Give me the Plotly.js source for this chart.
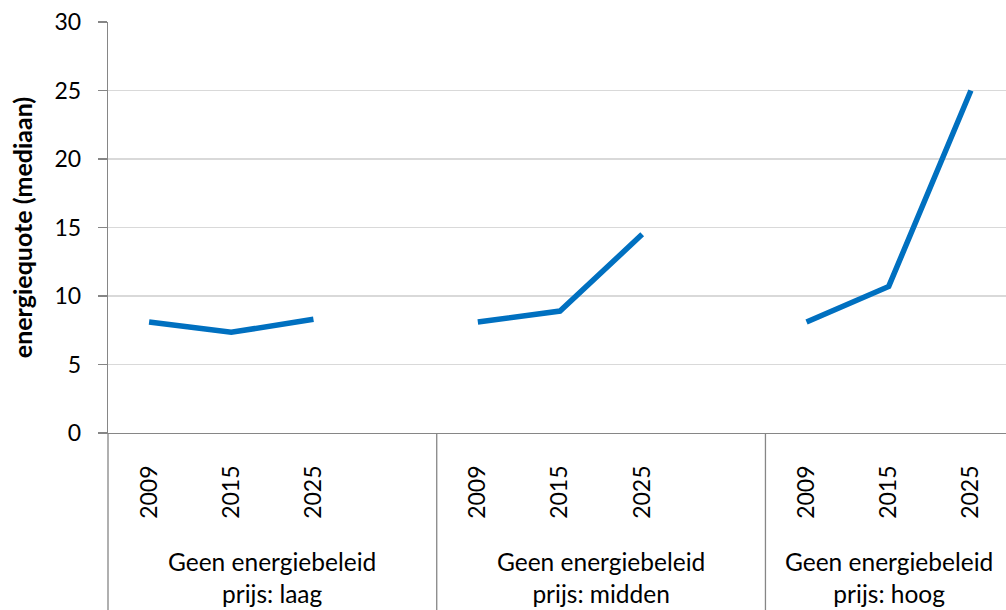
<!DOCTYPE html>
<html>
<head>
<meta charset="utf-8">
<script src="https://cdn.plot.ly/plotly-3.0.1.min.js"></script>
<style>html,body{margin:0;padding:0;background:#fff;}#chart{width:1006px;height:610px;}</style>
</head>
<body>
<div id="chart"></div>
<script>
// ---- data ----
const years = ['2009', '2015', '2025'];
const groupNames = ['Geen energiebeleid<br>prijs: laag', 'Geen energiebeleid<br>prijs: midden', 'Geen energiebeleid<br>prijs: hoog'];
const valuesLaag = [8.1, 7.35, 8.3];
const valuesMidden = [8.1, 8.9, 14.5];
const valuesHoog = [8.1, 10.7, 25.0];
const yTicks = [0, 5, 10, 15, 20, 25, 30];
const yTitle = 'energiequote (mediaan)';

// ---- build category slots (each group = years + one blank slot) ----
const groups = [valuesLaag, valuesMidden, valuesHoog];
const slot = years.length + 1;
const xs = [], ys = [], tickvals = [], ticktext = [];
groups.forEach((vals, g) => {
  vals.forEach((v, i) => {
    const x = g * slot + i;
    xs.push(x); ys.push(v);
    tickvals.push(x); ticktext.push(years[i]);
  });
  if (g < groups.length - 1) { xs.push(g * slot + years.length); ys.push(null); }
});
const nSlots = groups.length * slot - 1;

const axisColor = '#868686';
const fontFam = 'Lato, "Open Sans", sans-serif';

const shapes = [];
// y-axis line continued through the category area
shapes.push({type: 'line', xref: 'paper', yref: 'paper', x0: 0, x1: 0, y0: 0, y1: -0.5, line: {color: axisColor, width: 1.3}});
// group dividers
for (let g = 1; g < groups.length; g++) {
  const xd = g * slot - 0.5;
  shapes.push({type: 'line', xref: 'x', yref: 'paper', x0: xd, x1: xd, y0: 0, y1: -0.5, line: {color: axisColor, width: 1.3}});
}

const annotations = groupNames.map((name, g) => {
  const start = g * slot - 0.5;
  const end = Math.min((g + 1) * slot - 0.5, nSlots - 0.5);
  return {
    xref: 'x', yref: 'paper',
    x: (start + end) / 2, y: -0.272,
    text: name, showarrow: false, xanchor: 'center', yanchor: 'top',
    font: {family: fontFam, size: 24.5, color: '#000'}
  };
});

const trace = {
  x: xs, y: ys, type: 'scatter', mode: 'lines',
  connectgaps: false,
  line: {color: '#0070C0', width: 5.5},
  hoverinfo: 'skip'
};

const layout = {
  width: 1006, height: 610,
  margin: {l: 108, r: 0, t: 22, b: 177},
  paper_bgcolor: '#fff', plot_bgcolor: '#fff',
  showlegend: false,
  font: {family: fontFam, color: '#000'},
  xaxis: {
    range: [-0.5, nSlots - 0.5 - 0.073],
    tickmode: 'array', tickvals: tickvals, ticktext: ticktext,
    tickangle: -90, ticks: '', showgrid: false, zeroline: false,
    showline: true, linecolor: axisColor, linewidth: 1.3,
    tickfont: {family: fontFam, size: 23, color: '#000'},
    ticklabelstandoff: 22, fixedrange: true
  },
  yaxis: {
    range: [0, 30], tickmode: 'array', tickvals: yTicks,
    ticks: 'outside', ticklen: 9, tickcolor: axisColor, tickwidth: 1.3,
    showline: true, linecolor: axisColor, linewidth: 1.3,
    showgrid: true, gridcolor: '#d9d9d9', gridwidth: 1.3, zeroline: false,
    tickfont: {family: fontFam, size: 23, color: '#000'},
    ticklabelstandoff: 12,
    title: {text: '<b>' + yTitle + '</b>', font: {family: fontFam, size: 25, color: '#000'}, standoff: 14},
    fixedrange: true
  },
  shapes: shapes,
  annotations: annotations
};

Plotly.newPlot('chart', [trace], layout, {displayModeBar: false, staticPlot: true});
</script>
</body>
</html>
